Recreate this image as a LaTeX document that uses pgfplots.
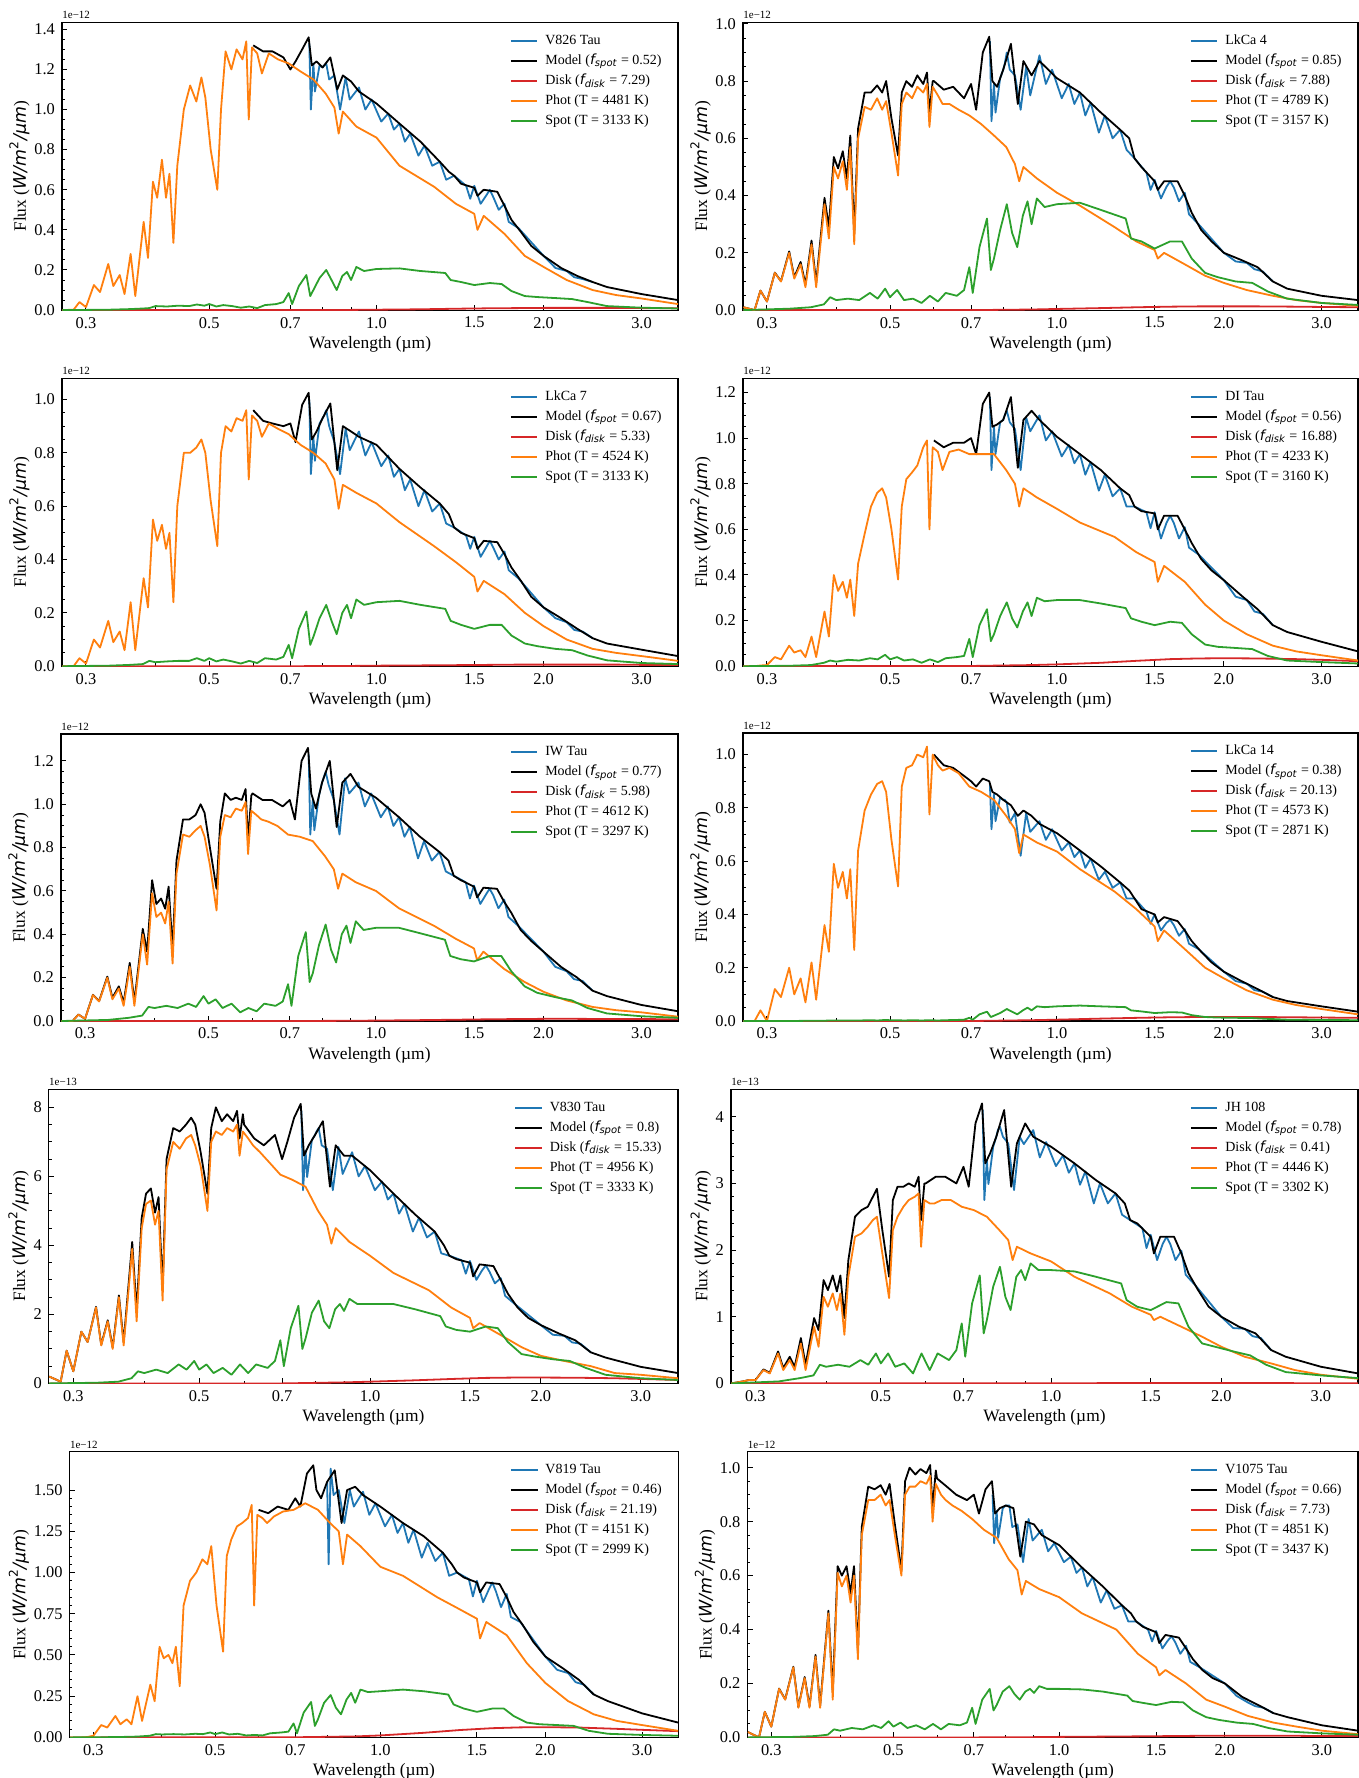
\documentclass[border=0pt]{standalone}
\usepackage{fontspec}
\setmainfont{Liberation Serif}
\newfontfamily\dv{DejaVu Sans}
\usepackage{pgfplots}
\usepackage{pgfplotstable}
\pgfplotsset{compat=1.18}

\definecolor{tabblue}{HTML}{1F77B4}
\definecolor{taborange}{HTML}{FF7F0E}
\definecolor{tabgreen}{HTML}{2CA02C}
\definecolor{tabred}{HTML}{D62728}

\newcommand\tkl{\fontsize{8.2}{9}\selectfont}
\newcommand\lbl{\fontsize{8.7}{10}\selectfont}
\newcommand\lgd{\fontsize{7}{8}\selectfont}
\newcommand\ofs{\fontsize{5.5}{6}\selectfont}

% columns: a V826 Tau, b LkCa 4, c LkCa 7, d DI Tau, e IW Tau, f LkCa 14,
%          g V830 Tau (1e-13), h JH 108 (1e-13), i V819 Tau, j V1075 Tau
% photosphere component
\pgfplotstableread{
lam   a     b     c     d     e     f     g    h     i     j
0.272 0.000 0.010 0.000 0.000 0.000 0.000 0.20 0.000 0.000 0.020
0.285 0.002 0.000 0.000 0.000 0.000 0.000 0.05 0.030 0.000 0.000
0.292 0.040 0.068 0.030 0.003 0.030 0.040 0.95 0.050 0.002 0.095
0.300 0.015 0.030 0.010 0.005 0.010 0.000 0.35 0.050 0.010 0.040
0.310 0.125 0.130 0.100 0.040 0.120 0.120 1.50 0.200 0.075 0.180
0.318 0.090 0.100 0.070 0.030 0.090 0.090 1.20 0.150 0.060 0.140
0.329 0.230 0.200 0.170 0.090 0.200 0.200 2.20 0.450 0.130 0.260
0.336 0.120 0.110 0.090 0.060 0.100 0.100 1.10 0.200 0.080 0.110
0.345 0.175 0.160 0.130 0.070 0.150 0.160 1.80 0.350 0.110 0.220
0.352 0.080 0.080 0.060 0.040 0.070 0.070 1.00 0.200 0.080 0.110
0.361 0.280 0.230 0.240 0.130 0.250 0.220 2.50 0.600 0.250 0.300
0.368 0.070 0.080 0.060 0.040 0.070 0.080 1.10 0.200 0.100 0.110
0.381 0.440 0.370 0.330 0.240 0.400 0.360 3.90 0.850 0.320 0.460
0.388 0.260 0.250 0.220 0.130 0.260 0.260 1.80 0.550 0.220 0.140
0.396 0.640 0.500 0.550 0.400 0.590 0.590 4.50 1.300 0.550 0.610
0.403 0.560 0.460 0.470 0.330 0.480 0.500 5.20 1.150 0.480 0.560
0.411 0.750 0.520 0.530 0.370 0.500 0.560 5.30 1.350 0.500 0.600
0.418 0.560 0.420 0.440 0.300 0.450 0.460 4.60 1.100 0.450 0.500
0.424 0.680 0.570 0.500 0.380 0.550 0.570 5.00 1.350 0.550 0.600
0.431 0.335 0.230 0.240 0.220 0.265 0.267 2.40 0.730 0.310 0.290
0.438 0.720 0.600 0.600 0.450 0.680 0.640 6.20 1.600 0.800 0.750
0.450 1.000 0.710 0.800 0.580 0.860 0.790 7.00 2.200 0.950 0.880
0.462 1.120 0.700 0.800 0.700 0.850 0.850 6.80 2.250 1.000 0.880
0.474 1.040 0.740 0.820 0.760 0.880 0.890 7.10 2.350 1.080 0.900
0.484 1.160 0.700 0.850 0.780 0.900 0.900 7.20 2.450 1.050 0.860
0.492 1.060 0.730 0.800 0.740 0.850 0.860 6.90 2.500 1.160 0.880
0.503 0.800 0.620 0.620 0.600 0.720 0.680 6.30 1.950 0.800 0.750
0.517 0.600 0.470 0.450 0.380 0.510 0.505 5.00 1.280 0.520 0.600
0.525 1.000 0.720 0.800 0.700 0.850 0.880 7.00 2.300 1.100 0.900
0.535 1.290 0.760 0.900 0.820 0.950 0.950 7.30 2.500 1.200 0.930
0.548 1.200 0.740 0.880 0.850 0.940 0.960 7.20 2.650 1.280 0.930
0.560 1.300 0.780 0.930 0.880 0.980 1.000 7.40 2.750 1.300 0.950
0.574 1.250 0.760 0.920 0.960 0.970 0.990 7.30 2.800 1.330 0.940
0.583 1.340 0.790 0.960 0.990 1.010 1.030 7.50 2.850 1.410 0.970
0.589 0.950 0.640 0.700 0.600 0.770 0.775 6.60 2.050 0.800 0.800
0.597 1.310 0.780 0.940 0.960 0.970 1.000 7.30 2.750 1.350 0.940
0.610 1.280 0.750 0.920 0.940 0.950 0.960 7.10 2.700 1.330 0.900
0.622 1.180 0.720 0.860 0.860 0.930 0.940 6.90 2.700 1.300 0.880
0.640 1.280 0.720 0.910 0.940 0.920 0.950 6.70 2.750 1.340 0.860
0.665 1.250 0.700 0.890 0.950 0.900 0.930 6.40 2.750 1.370 0.840
0.695 1.230 0.680 0.870 0.930 0.860 0.880 6.05 2.650 1.380 0.810
0.730 1.190 0.650 0.830 0.930 0.850 0.860 5.90 2.600 1.420 0.770
0.770 1.150 0.610 0.800 0.930 0.830 0.830 5.70 2.500 1.380 0.740
0.810 1.080 0.570 0.760 0.860 0.760 0.770 5.00 2.300 1.300 0.660
0.840 1.010 0.510 0.700 0.800 0.700 0.720 4.60 2.150 1.250 0.620
0.855 0.880 0.450 0.590 0.700 0.610 0.630 4.05 1.850 1.050 0.530
0.870 0.990 0.500 0.680 0.780 0.680 0.700 4.50 2.050 1.230 0.580
0.920 0.915 0.460 0.650 0.740 0.640 0.670 4.10 1.950 1.160 0.550
1.000 0.860 0.410 0.610 0.690 0.600 0.636 3.70 1.830 1.035 0.520
1.100 0.720 0.365 0.540 0.630 0.520 0.570 3.20 1.600 0.980 0.460
1.270 0.615 0.290 0.450 0.567 0.440 0.486 2.70 1.350 0.850 0.400
1.390 0.530 0.240 0.390 0.500 0.380 0.420 2.20 1.150 0.780 0.310
1.500 0.480 0.210 0.335 0.457 0.335 0.355 1.90 1.030 0.720 0.260
1.520 0.400 0.180 0.280 0.370 0.280 0.300 1.60 0.950 0.600 0.230
1.560 0.470 0.200 0.320 0.440 0.320 0.340 1.75 1.000 0.700 0.250
1.700 0.380 0.160 0.270 0.370 0.240 0.270 1.40 0.850 0.620 0.200
1.850 0.270 0.120 0.200 0.270 0.180 0.200 1.05 0.700 0.450 0.140
2.000 0.215 0.095 0.150 0.200 0.135 0.160 0.80 0.550 0.330 0.114
2.200 0.150 0.070 0.100 0.140 0.095 0.115 0.65 0.400 0.220 0.080
2.450 0.100 0.050 0.065 0.090 0.065 0.080 0.50 0.300 0.140 0.055
2.700 0.075 0.035 0.050 0.065 0.050 0.060 0.30 0.200 0.100 0.040
3.000 0.058 0.025 0.038 0.048 0.040 0.045 0.25 0.130 0.075 0.025
3.490 0.030 0.015 0.020 0.025 0.020 0.025 0.15 0.070 0.040 0.012
}\tblphot

% cool spot component
\pgfplotstableread{
lam   a     b     c     d     e     f     g    h     i     j
0.272 0.000 0.000 0.000 0.000 0.000 0.000 0.00 0.000 0.000 0.000
0.330 0.002 0.005 0.002 0.002 0.005 0.000 0.02 0.030 0.002 0.002
0.360 0.005 0.010 0.005 0.005 0.015 0.001 0.05 0.080 0.005 0.005
0.380 0.008 0.020 0.008 0.015 0.025 0.001 0.15 0.120 0.010 0.010
0.390 0.010 0.045 0.020 0.025 0.065 0.002 0.35 0.280 0.020 0.030
0.400 0.020 0.035 0.015 0.020 0.060 0.002 0.30 0.250 0.018 0.025
0.420 0.018 0.040 0.018 0.028 0.070 0.002 0.40 0.280 0.020 0.035
0.440 0.022 0.035 0.020 0.025 0.060 0.002 0.30 0.250 0.018 0.030
0.460 0.020 0.060 0.020 0.035 0.080 0.003 0.55 0.350 0.022 0.045
0.475 0.028 0.040 0.030 0.030 0.065 0.002 0.40 0.280 0.020 0.035
0.490 0.022 0.075 0.020 0.050 0.115 0.004 0.65 0.450 0.030 0.060
0.500 0.030 0.045 0.030 0.030 0.080 0.003 0.40 0.300 0.020 0.040
0.515 0.018 0.070 0.018 0.040 0.100 0.003 0.55 0.450 0.030 0.055
0.530 0.025 0.035 0.025 0.025 0.060 0.002 0.30 0.250 0.018 0.035
0.550 0.020 0.040 0.018 0.030 0.080 0.003 0.45 0.300 0.022 0.045
0.570 0.012 0.025 0.010 0.015 0.040 0.002 0.25 0.150 0.012 0.030
0.590 0.018 0.050 0.020 0.030 0.060 0.003 0.55 0.450 0.015 0.050
0.610 0.010 0.030 0.012 0.018 0.045 0.002 0.30 0.200 0.012 0.030
0.630 0.025 0.060 0.030 0.035 0.080 0.003 0.55 0.450 0.025 0.050
0.660 0.030 0.050 0.025 0.040 0.070 0.004 0.45 0.350 0.030 0.045
0.680 0.040 0.070 0.035 0.045 0.090 0.005 0.65 0.500 0.035 0.055
0.695 0.085 0.150 0.080 0.120 0.170 0.012 1.25 0.900 0.085 0.110
0.705 0.030 0.060 0.030 0.040 0.070 0.005 0.50 0.400 0.025 0.050
0.725 0.120 0.220 0.140 0.180 0.300 0.025 1.60 1.200 0.150 0.140
0.748 0.175 0.320 0.205 0.250 0.410 0.035 2.25 1.620 0.215 0.180
0.760 0.070 0.140 0.080 0.110 0.180 0.015 1.00 0.750 0.070 0.100
0.770 0.100 0.180 0.110 0.140 0.220 0.020 1.30 0.950 0.110 0.120
0.790 0.160 0.280 0.180 0.220 0.350 0.030 2.05 1.450 0.210 0.170
0.812 0.200 0.370 0.230 0.280 0.445 0.045 2.40 1.750 0.257 0.190
0.830 0.150 0.270 0.170 0.210 0.330 0.035 1.80 1.300 0.180 0.160
0.848 0.100 0.220 0.120 0.170 0.270 0.025 1.60 1.100 0.140 0.140
0.868 0.170 0.330 0.200 0.240 0.400 0.040 2.15 1.600 0.230 0.170
0.885 0.190 0.380 0.230 0.280 0.440 0.050 2.30 1.700 0.270 0.180
0.900 0.150 0.300 0.180 0.220 0.360 0.040 2.10 1.550 0.210 0.165
0.920 0.215 0.390 0.250 0.300 0.460 0.055 2.45 1.800 0.290 0.190
0.950 0.195 0.360 0.230 0.285 0.420 0.052 2.30 1.700 0.275 0.180
1.000 0.205 0.370 0.240 0.290 0.430 0.055 2.30 1.700 0.280 0.180
1.100 0.208 0.375 0.245 0.290 0.430 0.058 2.30 1.680 0.290 0.178
1.200 0.195 0.350 0.230 0.275 0.405 0.055 2.15 1.600 0.280 0.170
1.330 0.185 0.320 0.215 0.255 0.375 0.052 1.95 1.500 0.260 0.155
1.360 0.150 0.250 0.170 0.210 0.300 0.040 1.65 1.250 0.200 0.135
1.420 0.140 0.240 0.155 0.195 0.285 0.036 1.55 1.150 0.175 0.128
1.500 0.125 0.215 0.140 0.180 0.275 0.030 1.50 1.100 0.155 0.120
1.600 0.135 0.240 0.155 0.195 0.300 0.033 1.65 1.220 0.175 0.132
1.680 0.130 0.240 0.155 0.190 0.300 0.032 1.60 1.200 0.175 0.130
1.750 0.095 0.180 0.115 0.140 0.230 0.022 1.20 0.850 0.130 0.100
1.850 0.070 0.130 0.085 0.095 0.160 0.015 0.85 0.600 0.090 0.075
1.950 0.065 0.115 0.075 0.085 0.130 0.013 0.78 0.550 0.080 0.065
2.100 0.060 0.100 0.065 0.080 0.110 0.012 0.70 0.480 0.075 0.055
2.250 0.055 0.095 0.060 0.075 0.095 0.011 0.65 0.420 0.070 0.050
2.400 0.040 0.065 0.040 0.045 0.060 0.008 0.45 0.280 0.040 0.035
2.600 0.020 0.040 0.022 0.025 0.035 0.005 0.25 0.170 0.022 0.022
3.000 0.012 0.025 0.012 0.018 0.022 0.004 0.15 0.120 0.015 0.015
3.490 0.008 0.018 0.008 0.012 0.015 0.003 0.10 0.080 0.010 0.010
}\tblspot

% total model (blue-side part only where it rises above the photosphere)
\pgfplotstableread{
lam   a     b     c     d     e     f     g    h    i     j
0.272 nan   0.010 nan   nan   0.000 nan   0.20 0.00 nan   0.020
0.285 nan   0.000 nan   nan   0.000 nan   0.05 0.03 nan   0.000
0.292 nan   0.068 nan   nan   0.030 nan   0.95 0.05 nan   0.095
0.300 nan   0.030 nan   nan   0.010 nan   0.35 0.05 nan   0.040
0.310 nan   0.131 nan   nan   0.121 nan   1.50 0.21 nan   0.181
0.318 nan   0.101 nan   nan   0.092 nan   1.20 0.16 nan   0.141
0.329 nan   0.205 nan   nan   0.205 nan   2.22 0.48 nan   0.262
0.336 nan   0.115 nan   nan   0.107 nan   1.12 0.23 nan   0.113
0.345 nan   0.168 nan   nan   0.160 nan   1.83 0.40 nan   0.224
0.352 nan   0.090 nan   nan   0.085 nan   1.04 0.25 nan   0.115
0.361 nan   0.243 nan   nan   0.268 nan   2.55 0.68 nan   0.306
0.368 nan   0.095 nan   nan   0.090 nan   1.20 0.28 nan   0.117
0.381 nan   0.392 nan   nan   0.425 nan   4.10 0.98 nan   0.470
0.388 nan   0.290 nan   nan   0.320 nan   2.10 0.80 nan   0.170
0.396 nan   0.535 nan   nan   0.650 nan   4.80 1.55 nan   0.635
0.403 nan   0.495 nan   nan   0.540 nan   5.50 1.40 nan   0.600
0.411 nan   0.555 nan   nan   0.565 nan   5.65 1.62 nan   0.635
0.418 nan   0.460 nan   nan   0.518 nan   4.95 1.38 nan   0.535
0.424 nan   0.610 nan   nan   0.620 nan   5.40 1.62 nan   0.635
0.431 nan   0.268 nan   nan   0.330 nan   2.75 0.98 nan   0.320
0.438 nan   0.635 nan   nan   0.740 nan   6.50 1.85 nan   0.780
0.450 nan   0.760 nan   nan   0.930 nan   7.40 2.50 nan   0.930
0.462 nan   0.760 nan   nan   0.930 nan   7.30 2.60 nan   0.920
0.474 nan   0.785 nan   nan   0.950 nan   7.50 2.65 nan   0.935
0.484 nan   0.760 nan   nan   1.000 nan   7.70 2.80 nan   0.900
0.492 nan   0.800 nan   nan   0.960 nan   7.50 2.92 nan   0.940
0.503 nan   0.670 nan   nan   0.800 nan   6.70 2.30 nan   0.790
0.517 nan   0.540 nan   nan   0.610 nan   5.50 1.60 nan   0.620
0.525 nan   0.760 nan   nan   0.920 nan   7.40 2.75 nan   0.950
0.535 nan   0.800 nan   nan   1.050 nan   8.00 2.95 nan   1.000
0.548 nan   0.780 nan   nan   1.020 nan   7.60 2.95 nan   0.975
0.560 nan   0.820 nan   nan   1.030 nan   7.80 3.00 nan   0.995
0.574 nan   0.790 nan   nan   1.020 nan   7.60 2.95 nan   0.980
0.583 nan   0.830 nan   nan   1.070 nan   7.90 3.10 nan   1.010
0.589 nan   0.690 nan   nan   0.830 nan   7.10 2.45 nan   0.850
0.597 nan   0.800 nan   nan   1.040 nan   7.80 3.00 nan   0.990
0.600 1.320 0.800 0.960 0.990 1.050 1.000 7.50 3.00 1.380 0.960
0.625 1.290 0.770 0.920 0.960 1.020 0.960 7.10 3.10 1.360 0.930
0.650 1.290 0.780 0.910 0.980 1.020 0.950 6.90 3.10 1.400 0.900
0.680 1.260 0.740 0.900 0.980 0.990 0.920 7.20 3.00 1.380 0.880
0.700 1.200 0.790 0.910 1.000 1.020 0.900 6.50 3.25 1.450 0.900
0.715 1.240 0.700 0.840 0.930 0.930 0.880 7.00 2.95 1.400 0.830
0.735 1.300 0.900 0.980 1.150 1.200 0.910 7.70 3.90 1.600 0.920
0.755 1.360 0.955 1.025 1.200 1.260 0.900 8.10 4.20 1.650 0.950
0.765 1.220 0.800 0.850 1.050 1.050 0.860 6.60 3.30 1.500 0.830
0.780 1.240 0.780 0.880 1.060 0.980 0.850 6.90 3.45 1.450 0.850
0.800 1.210 0.840 0.930 1.080 1.100 0.830 7.20 3.70 1.550 0.860
0.826 1.260 0.930 0.985 1.180 1.200 0.810 7.60 4.10 1.620 0.850
0.850 1.100 0.720 0.735 0.870 0.895 0.770 5.70 2.95 1.300 0.670
0.870 1.170 0.870 0.900 1.080 1.100 0.790 6.90 3.60 1.500 0.800
0.900 1.140 0.820 0.880 1.120 1.140 0.770 6.60 3.90 1.520 0.790
0.930 1.090 0.870 0.860 1.080 1.080 0.740 6.60 3.70 1.470 0.750
1.000 1.030 0.810 0.830 1.006 1.030 0.705 6.18 3.55 1.400 0.713
1.100 0.930 0.760 0.740 0.930 0.940 0.640 5.50 3.30 1.300 0.630
1.200 0.840 0.690 0.670 0.860 0.850 0.580 4.90 3.05 1.220 0.560
1.300 0.740 0.630 0.610 0.780 0.780 0.520 4.40 2.85 1.120 0.490
1.350 0.690 0.600 0.570 0.750 0.740 0.490 4.00 2.70 1.050 0.460
1.380 0.670 0.530 0.520 0.700 0.670 0.460 3.70 2.45 1.000 0.430
1.420 0.630 0.500 0.500 0.680 0.650 0.420 3.60 2.40 0.970 0.410
1.500 0.610 0.450 0.480 0.670 0.620 0.400 3.50 2.20 0.940 0.390
1.520 0.570 0.420 0.440 0.600 0.570 0.370 3.10 1.95 0.880 0.350
1.560 0.600 0.450 0.470 0.660 0.615 0.390 3.45 2.20 0.940 0.380
1.650 0.590 0.450 0.465 0.660 0.610 0.375 3.40 2.20 0.930 0.370
1.700 0.520 0.400 0.420 0.600 0.550 0.340 3.00 1.95 0.850 0.330
1.750 0.450 0.340 0.370 0.540 0.500 0.300 2.60 1.65 0.760 0.290
1.820 0.390 0.280 0.320 0.470 0.420 0.260 2.20 1.40 0.680 0.250
1.900 0.320 0.240 0.260 0.420 0.370 0.220 1.90 1.15 0.580 0.220
2.000 0.270 0.200 0.220 0.377 0.320 0.185 1.69 1.00 0.490 0.200
2.150 0.210 0.175 0.180 0.310 0.250 0.150 1.45 0.85 0.420 0.150
2.300 0.170 0.150 0.140 0.250 0.200 0.120 1.25 0.75 0.350 0.120
2.450 0.140 0.100 0.105 0.180 0.140 0.090 0.90 0.50 0.260 0.090
2.600 0.115 0.075 0.085 0.150 0.115 0.075 0.75 0.40 0.220 0.075
3.000 0.080 0.050 0.062 0.107 0.074 0.055 0.48 0.25 0.146 0.045
3.490 0.050 0.035 0.038 0.065 0.045 0.035 0.30 0.15 0.090 0.025
}\tblmodel

% observed spectrum
\pgfplotstableread{
lam   a     b     c     d     e     f     g    h    i     j
0.757 1.33  0.94  1.00  1.18  1.23  0.89  7.90 4.10 nan   0.90
0.762 1.00  0.66  0.72  0.86  0.86  0.72  5.60 2.75 nan   0.72
0.770 1.23  0.79  0.86  1.05  1.02  0.85  6.75 3.35 nan   0.84
0.775 1.09  0.69  0.77  0.93  0.88  0.75  5.98 2.99 nan   0.74
0.790 1.22  0.81  0.91  1.07  1.04  0.84  7.05 3.55 nan   0.85
0.800 1.21  0.84  0.93  1.08  1.10  0.83  7.20 3.70 1.55  0.86
0.805 1.22  0.86  0.94  1.10  1.12  0.83  7.30 3.80 1.05  0.86
0.812 1.23  0.90  0.96  1.12  1.15  0.82  7.40 3.85 1.63  0.86
0.822 1.15  0.84  0.90  1.07  1.09  0.745 6.90 3.70 1.47  0.78
0.840 1.17  0.82  0.84  1.04  1.02  0.78  6.80 3.60 1.50  0.79
0.860 1.00  0.70  0.72  0.86  0.86  0.62  5.60 2.90 1.30  0.65
0.880 1.16  0.85  0.89  1.09  1.12  0.78  6.85 3.70 1.50  0.81
0.895 1.05  0.75  0.81  1.03  1.05  0.71  6.07 3.59 1.40  0.73
0.930 1.11  0.89  0.88  1.10  1.10  0.75  6.70 3.80 1.49  0.77
0.955 1.00  0.79  0.79  0.99  0.99  0.68  6.00 3.39 1.35  0.69
0.980 1.05  0.84  0.84  1.03  1.05  0.72  6.30 3.62 1.42  0.72
1.020 0.94  0.74  0.75  0.92  0.94  0.64  5.60 3.26 1.28  0.65
1.050 0.98  0.79  0.79  0.97  0.99  0.67  5.85 3.42 1.35  0.67
1.075 0.90  0.72  0.71  0.89  0.90  0.615 5.33 3.16 1.24  0.61
1.100 0.93  0.76  0.74  0.93  0.94  0.64  5.50 3.30 1.30  0.63
1.125 0.84  0.68  0.66  0.84  0.85  0.575 4.92 2.98 1.18  0.56
1.150 0.88  0.725 0.70  0.895 0.895 0.61  5.20 3.18 1.26  0.595
1.190 0.77  0.62  0.60  0.77  0.75  0.53  4.40 2.70 1.09  0.50
1.220 0.82  0.68  0.66  0.84  0.83  0.56  4.80 3.00 1.18  0.545
1.260 0.72  0.60  0.58  0.745 0.74  0.50  4.23 2.70 1.07  0.477
1.300 0.74  0.63  0.61  0.78  0.78  0.52  4.40 2.85 1.12  0.49
1.335 0.65  0.56  0.535 0.70  0.69  0.46  3.77 2.53 0.98  0.43
1.380 0.67  0.53  0.52  0.70  0.67  0.46  3.70 2.45 1.00  0.43
1.450 0.62  0.48  0.49  0.675 0.64  0.41  3.57 2.33 0.96  0.40
1.475 0.555 0.42  0.44  0.605 0.565 0.365 3.18 2.03 0.855 0.356
1.500 0.62  0.455 0.485 0.675 0.625 0.40  3.55 2.23 0.95  0.395
1.540 0.53  0.39  0.41  0.56  0.54  0.34  3.00 1.85 0.82  0.33
1.575 0.57  0.43  0.445 0.627 0.582 0.368 3.27 2.09 0.893 0.359
1.600 0.60  0.45  0.47  0.66  0.61  0.38  3.42 2.20 0.94  0.375
1.625 0.56  0.428 0.442 0.627 0.58  0.36  3.23 2.09 0.885 0.353
1.660 0.50  0.38  0.40  0.56  0.52  0.32  2.90 1.85 0.79  0.31
1.700 0.53  0.41  0.43  0.61  0.56  0.345 3.05 1.99 0.87  0.34
1.730 0.44  0.335 0.36  0.52  0.48  0.29  2.54 1.63 0.73  0.28
1.800 0.41  0.30  0.33  0.49  0.44  0.27  2.30 1.47 0.70  0.26
2.000 0.27  0.20  0.22  0.377 0.32  0.185 1.69 1.00 0.49  0.20
2.100 0.21  0.17  0.18  0.305 0.25  0.15  1.41 0.83 0.41  0.154
2.200 0.195 0.165 0.165 0.29  0.23  0.14  1.38 0.82 0.39  0.13
2.270 0.164 0.143 0.136 0.24  0.193 0.116 1.19 0.71 0.335 0.116
2.350 0.155 0.135 0.13  0.23  0.185 0.11  1.15 0.68 0.32  0.11
2.450 0.14  0.10  0.105 0.18  0.14  0.09  0.90 0.50 0.26  0.09
}\tblobs

% disk emission
\pgfplotstableread{
lam   a     b     c     d     e     f     g     h     i     j
0.272 0.000 0.000 0.000 0.000 0.000 0.000 0.000 0.000 0.000 0.000
0.700 0.000 0.000 0.000 0.001 0.000 0.000 0.000 0.002 0.001 0.000
0.900 0.001 0.002 0.001 0.005 0.001 0.003 0.030 0.003 0.006 0.001
1.000 0.002 0.004 0.002 0.008 0.002 0.005 0.050 0.004 0.012 0.002
1.200 0.004 0.007 0.003 0.015 0.004 0.009 0.090 0.004 0.028 0.003
1.400 0.007 0.010 0.004 0.024 0.006 0.012 0.130 0.005 0.045 0.004
1.600 0.009 0.012 0.005 0.031 0.008 0.014 0.160 0.005 0.056 0.005
1.800 0.010 0.013 0.006 0.034 0.009 0.015 0.170 0.005 0.061 0.006
2.000 0.011 0.013 0.006 0.035 0.010 0.015 0.170 0.005 0.062 0.006
2.300 0.011 0.013 0.006 0.034 0.010 0.015 0.165 0.005 0.060 0.006
2.700 0.011 0.012 0.006 0.031 0.009 0.014 0.150 0.004 0.052 0.006
3.000 0.010 0.011 0.005 0.028 0.009 0.013 0.130 0.004 0.046 0.005
3.490 0.009 0.010 0.005 0.022 0.008 0.012 0.100 0.004 0.038 0.005
}\tbldisk

\tikzset{
  sObs/.style={tabblue, line width=0.9pt, line join=round},
  sModel/.style={black, line width=0.9pt, line join=round},
  sDisk/.style={tabred, line width=0.9pt, line join=round},
  sPhot/.style={taborange, line width=0.9pt, line join=round},
  sSpot/.style={tabgreen, line width=0.9pt, line join=round},
}

% one spectrum panel: #1 = panel-specific axis options
\newenvironment{specax}[1]{%
\begin{axis}[xmode=log, scale only axis,
    xmin=0.2716, xmax=3.49, ymin=0,
    xtick={0.3,0.5,0.7,1,1.5,2,3},
    xticklabels={0.3,0.5,0.7,1.0,1.5,2.0,3.0},
    minor xtick={0.4,0.6,0.8,0.9},
    xtick pos=bottom, ytick pos=left, tick align=inside,
    major tick length=2.6pt, minor tick length=1.4pt,
    tick style={black, line width=0.5pt},
    axis line style={black, line width=0.6pt},
    xlabel={Wavelength (µm)},
    ylabel={Flux ({\dv\itshape W/m}\textsuperscript{\dv 2}{\dv\itshape /μm})},
    xlabel shift=-2.8pt, ylabel shift=-4.5pt,
    label style={font=\lbl},
    tick label style={font=\tkl},
    scaled y ticks=false,
    yticklabel style={/pgf/number format/fixed, /pgf/number format/fixed zerofill, /pgf/number format/precision=1, /pgf/number format/assume math mode=true},
    xticklabel style={/pgf/number format/assume math mode=true},
    legend cell align=left,
    legend style={at={(1,1)}, anchor=north east, xshift=-5pt, yshift=-3.3pt,
      draw=none, fill=none, font=\lgd, row sep=2.8pt, column sep=3.5pt,
      nodes={inner sep=0pt, text height=5.4pt, text depth=1.8pt}},
    legend image post style={xscale=0.78},
    #1]}{\end{axis}}

\newcommand\curves[1]{%
  \addplot[sObs] table[x=lam,y=#1]{\tblobs};
  \addplot[sModel] table[x=lam,y=#1]{\tblmodel};
  \addplot[sDisk] table[x=lam,y=#1]{\tbldisk};
  \addplot[sPhot] table[x=lam,y=#1]{\tblphot};
  \addplot[sSpot] table[x=lam,y=#1]{\tblspot};
}
\newcommand\entries[5]{%
  \legend{#1,
    Model ({\dv\itshape f}\textsubscript{\dv\itshape spot} = #2),
    Disk ({\dv\itshape f}\textsubscript{\dv\itshape disk} = #3),
    Phot (T = #4 K),
    Spot (T = #5 K)}}
\newcommand\offs[2]{\node[anchor=south west, inner sep=0pt, font=\ofs] at ([yshift=1.6pt]#1.north west) {#2};}

\begin{document}
\begin{tikzpicture}
\path[use as bounding box] (0,0) rectangle (679.5pt,-889pt);

\begin{specax}{name=p1, at={(31pt,-155.05pt)}, width=308pt, height=143.7pt,
  ymax=1.433, ytick={0,0.2,0.4,0.6,0.8,1.0,1.2,1.4}, minor y tick num=3}
\curves{a}
\entries{V826 Tau}{0.52}{7.29}{4481}{3133}
\end{specax}
\offs{p1}{1e−12}

\begin{specax}{name=p2, at={(371.5pt,-155.05pt)}, width=307.5pt, height=143.7pt,
  ymax=1.004, ytick={0,0.2,0.4,0.6,0.8,1.0}, minor y tick num=3}
\curves{b}
\entries{LkCa 4}{0.85}{7.88}{4789}{3157}
\end{specax}
\offs{p2}{1e−12}

\begin{specax}{name=p3, at={(31pt,-333.1pt)}, width=308pt, height=143.9pt,
  ymax=1.079, ytick={0,0.2,0.4,0.6,0.8,1.0}, minor y tick num=3}
\curves{c}
\entries{LkCa 7}{0.67}{5.33}{4524}{3133}
\end{specax}
\offs{p3}{1e−12}

\begin{specax}{name=p4, at={(371.5pt,-333.1pt)}, width=307.5pt, height=143.9pt,
  ymax=1.262, ytick={0,0.2,0.4,0.6,0.8,1.0,1.2}, minor y tick num=3}
\curves{d}
\entries{DI Tau}{0.56}{16.88}{4233}{3160}
\end{specax}
\offs{p4}{1e−12}

\begin{specax}{name=p5, at={(30.5pt,-510.5pt)}, width=308.5pt, height=143.5pt,
  ymax=1.324, ytick={0,0.2,0.4,0.6,0.8,1.0,1.2}, minor y tick num=3}
\curves{e}
\entries{IW Tau}{0.77}{5.98}{4612}{3297}
\end{specax}
\offs{p5}{1e−12}

\begin{specax}{name=p6, at={(371.5pt,-510.5pt)}, width=307.5pt, height=144pt,
  ymax=1.081, ytick={0,0.2,0.4,0.6,0.8,1.0}, minor y tick num=3}
\curves{f}
\entries{LkCa 14}{0.38}{20.13}{4573}{2871}
\end{specax}
\offs{p6}{1e−12}

\begin{specax}{name=p7, at={(24.4pt,-691.7pt)}, width=314.6pt, height=147pt,
  ymax=8.52, ytick={0,2,4,6,8}, minor y tick num=3,
  yticklabel style={/pgf/number format/precision=0}}
\curves{g}
\entries{V830 Tau}{0.8}{15.33}{4956}{3333}
\end{specax}
\offs{p7}{1e−13}

\begin{specax}{name=p8, at={(365.5pt,-691.7pt)}, width=313.5pt, height=147pt,
  ymax=4.41, ytick={0,1,2,3,4}, minor y tick num=4,
  yticklabel style={/pgf/number format/precision=0}}
\curves{h}
\entries{JH 108}{0.78}{0.41}{4446}{3302}
\end{specax}
\offs{p8}{1e−13}

\begin{specax}{name=p9, at={(34.85pt,-868.7pt)}, width=304.2pt, height=142.8pt,
  ymax=1.732, ytick={0,0.25,0.5,0.75,1.0,1.25,1.5}, minor y tick num=4,
  yticklabel style={/pgf/number format/precision=2}}
\curves{i}
\entries{V819 Tau}{0.46}{21.19}{4151}{2999}
\end{specax}
\offs{p9}{1e−12}

\begin{specax}{name=p10, at={(373.75pt,-868.7pt)}, width=305.25pt, height=142.8pt,
  ymax=1.059, ytick={0,0.2,0.4,0.6,0.8,1.0}, minor y tick num=3}
\curves{j}
\entries{V1075 Tau}{0.66}{7.73}{4851}{3437}
\end{specax}
\offs{p10}{1e−12}

\end{tikzpicture}
\end{document}
